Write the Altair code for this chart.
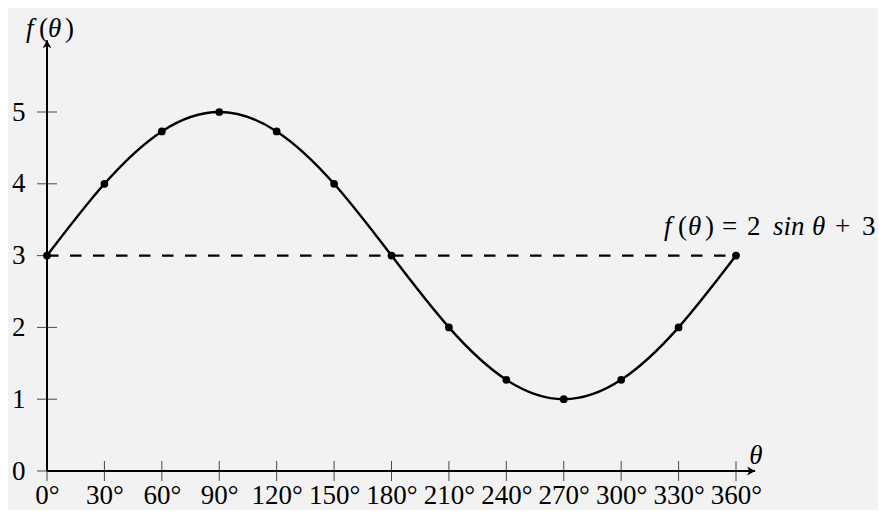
import altair as alt
import pandas as pd

# ---- data ----
angles = [0, 30, 60, 90, 120, 150, 180, 210, 240, 270, 300, 330, 360]
values = [3, 4, 4.73, 5, 4.73, 4, 3, 2, 1.27, 1, 1.27, 2, 3]
y_ticks = [0, 1, 2, 3, 4, 5]
midline_value = 3
x_axis_end = 370
y_axis_end = 6

formula_parts = ["f", "(", "θ", ")", "=", "2", "sin", "θ", "+", "3"]
formula_italic = [True, False, True, False, False, False, True, True, False, False]
formula_dx = [-72, -58, -48, -31, -14, 11, 37, 76, 99, 126]

ylabel_parts = ["f", "(", "θ", ")"]
ylabel_italic = [True, False, True, False]
ylabel_dx = [-21, -8, 1, 18]

FONT = "Liberation Serif"
FS = 27
BG = "#f2f2f2"

xs = alt.Scale(domain=[0, 360], nice=False, zero=False)
ys = alt.Scale(domain=[0, 5], nice=False, zero=False)

df = pd.DataFrame({"theta": angles, "f": values})
xt_df = pd.DataFrame({"theta": angles, "base": [0] * len(angles)})
yt_df = pd.DataFrame({"v": y_ticks, "base": [0] * len(y_ticks)})
mid_df = pd.DataFrame({"x0": [0], "x1": [360], "y": [midline_value]})
xax_df = pd.DataFrame({"x0": [0], "x1": [x_axis_end], "y": [0]})
yax_df = pd.DataFrame({"x": [0], "y0": [0], "y1": [y_axis_end]})
xarrow_df = pd.DataFrame({"x": [x_axis_end], "y": [0]})
yarrow_df = pd.DataFrame({"x": [0], "y": [y_axis_end]})

xaxis = alt.Axis(values=angles, labelExpr="datum.value + '°'", grid=False,
                 domain=False, ticks=False, labelPadding=32,
                 labelBaseline="alphabetic", labelFontSize=FS, labelFont=FONT,
                 labelColor="black", labelOverlap=False, labelFlush=False,
                 labelBound=False, title="")
yaxis = alt.Axis(values=y_ticks, grid=False, domain=False, ticks=False,
                 labelPadding=22, labelFontSize=FS, labelFont=FONT,
                 labelColor="black", labelOverlap=False, labelFlush=False,
                 labelBound=False, labelBaseline="middle", title="")


def X(f):
    return alt.X(f, type="quantitative", scale=xs, axis=xaxis)


def Y(f):
    return alt.Y(f, type="quantitative", scale=ys, axis=yaxis)


curve = alt.Chart(df).mark_line(interpolate="natural", strokeWidth=2.4,
                                color="black").encode(
    x=X("theta"), y=Y("f"))

dots = alt.Chart(df).mark_circle(size=60, color="black", opacity=1).encode(
    x=X("theta"), y=Y("f"))

dashed = alt.Chart(mid_df).mark_rule(strokeDash=[11.5, 11.5], strokeWidth=2.4,
                                     color="black").encode(
    x=X("x0"), x2="x1", y=Y("y"))

xline = alt.Chart(xax_df).mark_rule(strokeWidth=2, color="black").encode(
    x=X("x0"), x2="x1", y=Y("y"))
yline = alt.Chart(yax_df).mark_rule(strokeWidth=2, color="black").encode(
    x=X("x"), y=Y("y0"), y2="y1")

xticks = alt.Chart(xt_df).mark_tick(orient="vertical", size=20, thickness=1,
                                    color="black").encode(
    x=X("theta"), y=Y("base"))
yticks = alt.Chart(yt_df).mark_tick(orient="horizontal", size=20, thickness=1,
                                    color="black").encode(
    x=X("base"), y=Y("v"))

ARROW = "M 0 0 L -1 -0.55 L -0.72 0 L -1 0.55 Z"
xarrow = alt.Chart(xarrow_df).mark_point(shape=ARROW, filled=True, size=256,
                                         color="black", opacity=1,
                                         strokeWidth=0).encode(
    x=X("x"), y=Y("y"))
yarrow = alt.Chart(yarrow_df).mark_point(shape=ARROW, filled=True, size=256,
                                         color="black", opacity=1, angle=270,
                                         strokeWidth=0).encode(
    x=X("x"), y=Y("y"))


def text_layer(s, xv, yv, dx, dy, italic):
    d = pd.DataFrame({"x": [xv], "y": [yv], "t": [s]})
    return alt.Chart(d).mark_text(
        align="left", baseline="alphabetic", dx=dx, dy=dy, font=FONT,
        fontSize=FS, fontStyle="italic" if italic else "normal",
        color="black").encode(x=X("x"), y=Y("y"), text="t:N")


texts = []
for s, it, dx in zip(formula_parts, formula_italic, formula_dx):
    texts.append(text_layer(s, 360, midline_value, dx, -21, it))
for s, it, dx in zip(ylabel_parts, ylabel_italic, ylabel_dx):
    texts.append(text_layer(s, 0, y_axis_end, dx, -3, it))
texts.append(text_layer("θ", x_axis_end, 0, -6, -7, True))

chart = alt.layer(curve, dashed, xline, yline, xticks, yticks, xarrow, yarrow,
                  dots, *texts).properties(
    width=689, height=359,
    autosize=alt.AutoSizeParams(type="none"),
    padding={"left": 39, "top": 104, "right": 142, "bottom": 39},
    background=BG,
).configure_view(stroke=None)

chart.save("out.html", embed_options={"renderer": "svg", "actions": False})
